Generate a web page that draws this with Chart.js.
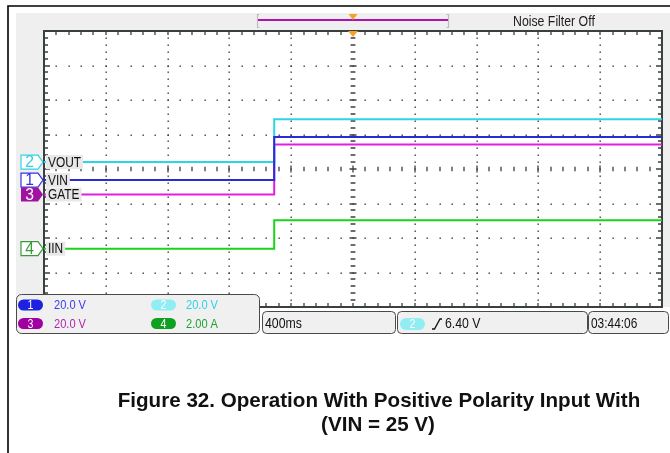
<!DOCTYPE html>
<html>
<head>
<meta charset="utf-8">
<script src="https://cdn.jsdelivr.net/npm/chart.js@4.4.1/dist/chart.umd.min.js"></script>
<style>
  html, body { margin: 0; padding: 0; background: #ffffff; }
  canvas { display: block; }
</style>
</head>
<body>
<canvas id="scope" width="670" height="453"></canvas>
<script>
// Horizontal: 400 ms/div, 10 divisions, trigger at screen centre (t = 0)
const timeMs    = [-2000, -510, -510, 2000];
// Channel waveforms (physical units)
const vinVolts  = [0, 0, 24.9, 24.9];
const voutVolts = [0, 0, 24.8, 24.8];
const gateVolts = [0, 0, 29.0, 29.0];
const iinAmps   = [0, 0, 1.65, 1.65];

// Vertical set-up per channel (CH1..CH4)
const channelNumbers    = ['1', '2', '3', '4'];
const channelNames      = ['VIN', 'VOUT', 'GATE', 'IIN'];
const unitsPerDiv       = [20, 20, 20, 2];
const channelOffsetDiv  = [-0.32, 0.2, -0.74, -2.31];
const scaleReadouts     = ['20.0 V', '20.0 V', '20.0 V', '2.00 A'];

const timebaseReadout = '400ms';
const triggerReadout  = '6.40 V';
const clockReadout    = '03:44:06';
const statusText      = 'Noise Filter Off';
const captionLines    = ['Figure 32. Operation With Positive Polarity Input With', '(VIN = 25 V)'];

const traceColors   = ['#2a2ad6', '#2cd6e2', '#e01ee0', '#1ad41a'];
const markerColors  = ['#3434e6', '#34d2e2', '#a012a0', '#3a9a3a'];
const pillColors    = ['#1e22e0', '#90eef2', '#a000a0', '#10a020'];
const readoutColors = ['#3c3cf4', '#2cd2e4', '#b024b0', '#1ea02e'];

const SCOPE_FONT = "'Liberation Sans', Arial, sans-serif";
const NARROW = 0.82;

const series = [vinVolts, voutVolts, gateVolts, iinAmps];

function channelAxis(i) {
  const s = unitsPerDiv[i], off = channelOffsetDiv[i];
  return { display: false, min: (-4 - off) * s, max: (4 - off) * s };
}

function roundRect(ctx, x, y, w, h, r) {
  ctx.beginPath();
  ctx.moveTo(x + r, y);
  ctx.lineTo(x + w - r, y);
  ctx.arcTo(x + w, y, x + w, y + r, r);
  ctx.lineTo(x + w, y + h - r);
  ctx.arcTo(x + w, y + h, x + w - r, y + h, r);
  ctx.lineTo(x + r, y + h);
  ctx.arcTo(x, y + h, x, y + h - r, r);
  ctx.lineTo(x, y + r);
  ctx.arcTo(x, y, x + r, y, r);
  ctx.closePath();
}

// condensed on-screen lettering of the scope
function narrowText(ctx, text, x, y, size, align, color, squeeze) {
  const k = squeeze || NARROW;
  ctx.save();
  ctx.font = size + 'px ' + SCOPE_FONT;
  ctx.textAlign = align;
  ctx.textBaseline = 'middle';
  ctx.fillStyle = color;
  ctx.translate(x, y);
  ctx.scale(k, 1);
  ctx.fillText(text, 0, 0);
  ctx.restore();
}

function narrowWidth(ctx, text, size) {
  ctx.save();
  ctx.font = size + 'px ' + SCOPE_FONT;
  const w = ctx.measureText(text).width * NARROW;
  ctx.restore();
  return w;
}

// Screen background, top status strip and left margin
const screenBackground = {
  id: 'screenBackground',
  beforeDraw(chart) {
    const { ctx, chartArea: a } = chart;
    ctx.save();
    ctx.fillStyle = '#ffffff';
    ctx.fillRect(0, 0, chart.width, chart.height);
    ctx.fillStyle = '#efefef';
    ctx.fillRect(16, 13, chart.width - 16, a.bottom - 13);
    ctx.fillStyle = '#ffffff';
    ctx.fillRect(a.left, a.top, a.right - a.left, a.bottom - a.top);
    ctx.restore();
  }
};

// Dotted graticule, centre cross and edge ticks
const graticule = {
  id: 'graticule',
  beforeDatasetsDraw(chart) {
    const { ctx, chartArea: a } = chart;
    const dx = (a.right - a.left) / 10, dy = (a.bottom - a.top) / 8;
    const cx = a.left + 5 * dx, cy = a.top + 4 * dy;
    ctx.save();
    ctx.fillStyle = '#3a3a3a';
    for (let i = 1; i < 10; i++) {
      if (i === 5) continue;
      const x = Math.round(a.left + i * dx);
      for (let j = 1; j < 40; j++) ctx.fillRect(x - 0.5, Math.round(a.top + j * dy / 5) - 0.5, 1.4, 1.4);
    }
    for (let i = 1; i < 8; i++) {
      if (i === 4) continue;
      const y = Math.round(a.top + i * dy);
      for (let j = 1; j < 50; j++) ctx.fillRect(Math.round(a.left + j * dx / 5) - 0.5, y - 0.5, 1.4, 1.4);
    }
    ctx.strokeStyle = '#3a3f40';
    ctx.lineWidth = 1.3;
    ctx.beginPath();
    // centre horizontal ticks
    for (let j = 1; j < 50; j++) {
      const x = Math.round(a.left + j * dx / 5);
      const h = j % 5 === 0 ? 3.5 : 2.2;
      ctx.moveTo(x, cy - h); ctx.lineTo(x, cy + h);
    }
    // centre vertical ticks
    for (let j = 1; j < 40; j++) {
      const y = Math.round(a.top + j * dy / 5);
      const w = j % 5 === 0 ? 3.5 : 2.4;
      ctx.moveTo(cx - w, y); ctx.lineTo(cx + w, y);
    }
    // edge ticks
    for (let j = 1; j < 50; j++) {
      const x = Math.round(a.left + j * dx / 5);
      ctx.moveTo(x, a.top); ctx.lineTo(x, a.top + 4);
      ctx.moveTo(x, a.bottom); ctx.lineTo(x, a.bottom - 4);
    }
    for (let j = 1; j < 40; j++) {
      const y = Math.round(a.top + j * dy / 5);
      const l = j % 5 === 0 ? 6 : 4;
      ctx.moveTo(a.left, y); ctx.lineTo(a.left + l, y);
      ctx.moveTo(a.right, y); ctx.lineTo(a.right - l, y);
    }
    ctx.stroke();
    ctx.lineWidth = 2;
    ctx.strokeRect(a.left, a.top, a.right - a.left, a.bottom - a.top);
    ctx.restore();
  }
};

// Channel markers, trace labels, readouts and caption
const annotations = {
  id: 'annotations',
  afterDatasetsDraw(chart) {
    const { ctx, chartArea: a } = chart;
    const cx = (a.left + a.right) / 2;
    ctx.save();

    // outer page frame
    ctx.strokeStyle = '#000000';
    ctx.lineWidth = 1.6;
    ctx.beginPath();
    ctx.moveTo(8, 453); ctx.lineTo(8, 6); ctx.lineTo(670, 6);
    ctx.stroke();

    // record view bracket with magenta extent line
    ctx.strokeStyle = '#bcbcbc';
    ctx.lineWidth = 1.2;
    ctx.beginPath();
    ctx.moveTo(259.5, 14.5); ctx.lineTo(257.5, 14.5); ctx.lineTo(257.5, 27.5); ctx.lineTo(259.5, 27.5);
    ctx.moveTo(446.5, 14.5); ctx.lineTo(448.5, 14.5); ctx.lineTo(448.5, 27.5); ctx.lineTo(446.5, 27.5);
    ctx.stroke();
    ctx.strokeStyle = '#b012b0';
    ctx.lineWidth = 2;
    ctx.beginPath(); ctx.moveTo(258, 20); ctx.lineTo(448, 20); ctx.stroke();

    // trigger position markers
    ctx.fillStyle = '#f2a32a';
    ctx.beginPath(); ctx.moveTo(cx - 4.5, 14); ctx.lineTo(cx + 4.5, 14); ctx.lineTo(cx, 20); ctx.closePath(); ctx.fill();
    ctx.beginPath(); ctx.moveTo(cx - 5, a.top); ctx.lineTo(cx + 5, a.top); ctx.lineTo(cx, a.top + 6); ctx.closePath(); ctx.fill();

    // status text
    narrowText(ctx, statusText, 513, 22, 15, 'left', '#1e1e1e');

    // channel ground markers and trace labels
    for (let i = 0; i < 4; i++) {
      const y = chart.scales['y' + (i + 1)].getPixelForValue(0);
      const col = markerColors[i];
      ctx.beginPath();
      ctx.moveTo(21, y - 7); ctx.lineTo(38, y - 7); ctx.lineTo(43, y); ctx.lineTo(38, y + 7); ctx.lineTo(21, y + 7); ctx.closePath();
      if (i === 2) {
        ctx.fillStyle = col; ctx.fill();
      } else {
        ctx.fillStyle = '#ffffff'; ctx.fill();
        ctx.strokeStyle = col; ctx.lineWidth = 1.2; ctx.stroke();
      }
      narrowText(ctx, channelNumbers[i], 29.5, y + 0.8, 16.5, 'center', i === 2 ? '#ffffff' : col, 0.95);

      const w = narrowWidth(ctx, channelNames[i], 14.5);
      ctx.fillStyle = '#e8e8e8';
      ctx.fillRect(46, y - 7, w + 4, 14);
      narrowText(ctx, channelNames[i], 48, y + 0.5, 14.5, 'left', '#111111');
    }

    // vertical scale readout box
    ctx.fillStyle = '#f0f0f0';
    ctx.strokeStyle = '#4a4a4a';
    ctx.lineWidth = 1;
    roundRect(ctx, 16.5, 294.5, 243, 39, 5); ctx.fill(); ctx.stroke();
    const rows = [305, 323.5];
    const cols = [[18, 54], [151, 186]];
    const order = [[0, 1], [2, 3]];
    for (let r = 0; r < 2; r++) {
      for (let c = 0; c < 2; c++) {
        const ch = order[r][c];
        const [px, tx] = cols[c];
        const y = rows[r];
        ctx.fillStyle = pillColors[ch];
        roundRect(ctx, px, y - 5.5, 25, 11, 5.5); ctx.fill();
        narrowText(ctx, channelNumbers[ch], px + 12.5, y + 0.5, 13, 'center', '#ffffff');
        narrowText(ctx, scaleReadouts[ch], tx, y + 0.5, 13.5, 'left', readoutColors[ch]);
      }
    }

    // timebase, trigger and clock boxes
    ctx.fillStyle = '#f0f0f0';
    ctx.strokeStyle = '#4a4a4a';
    roundRect(ctx, 262.5, 311.5, 133, 22, 4); ctx.fill(); ctx.stroke();
    ctx.fillStyle = '#f0f0f0';
    roundRect(ctx, 397.5, 311.5, 190, 22, 4); ctx.fill(); ctx.stroke();
    ctx.fillStyle = '#f0f0f0';
    roundRect(ctx, 588.5, 311.5, 80, 22, 4); ctx.fill(); ctx.stroke();

    narrowText(ctx, timebaseReadout, 265, 323.5, 15, 'left', '#111111');
    narrowText(ctx, triggerReadout, 445, 323.5, 15, 'left', '#111111');
    narrowText(ctx, clockReadout, 591, 323.5, 14.5, 'left', '#111111');

    ctx.fillStyle = pillColors[1];
    roundRect(ctx, 400, 318, 25, 12, 6); ctx.fill();
    narrowText(ctx, channelNumbers[1], 412.5, 324.5, 13, 'center', '#ffffff');

    // rising-edge trigger symbol
    ctx.strokeStyle = '#111111';
    ctx.lineWidth = 1.3;
    ctx.beginPath();
    ctx.moveTo(432, 329); ctx.lineTo(434.5, 329); ctx.lineTo(440, 319); ctx.lineTo(442, 319);
    ctx.stroke();

    // caption
    ctx.fillStyle = '#111111';
    ctx.font = "bold 20.6px 'Liberation Sans', Arial, sans-serif";
    ctx.textAlign = 'center';
    ctx.textBaseline = 'alphabetic';
    ctx.fillText(captionLines[0], 379, 406.5);
    ctx.fillText(captionLines[1], 378, 431);

    ctx.restore();
  }
};

const datasets = series.map((vals, i) => ({
  label: channelNames[i],
  data: timeMs.map((t, k) => ({ x: t, y: vals[k] })),
  yAxisID: 'y' + (i + 1),
  borderColor: traceColors[i],
  backgroundColor: traceColors[i],
  borderWidth: 2,
  pointRadius: 0,
  tension: 0,
  fill: false
}));

new Chart(document.getElementById('scope'), {
  type: 'line',
  data: { datasets },
  options: {
    responsive: false,
    animation: false,
    events: [],
    layout: { padding: { left: 44, top: 31, right: 8, bottom: 146 } },
    plugins: { legend: { display: false }, tooltip: { enabled: false }, title: { display: false } },
    scales: {
      x: { type: 'linear', min: -2000, max: 2000, display: false },
      y1: channelAxis(0),
      y2: channelAxis(1),
      y3: channelAxis(2),
      y4: channelAxis(3)
    }
  },
  plugins: [screenBackground, graticule, annotations]
});
</script>
</body>
</html>
